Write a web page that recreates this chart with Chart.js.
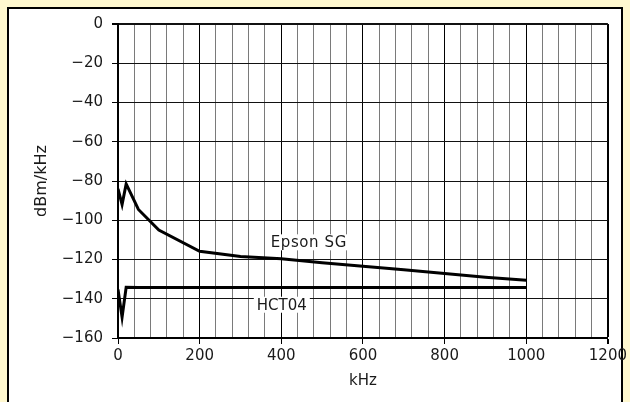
<!DOCTYPE html>
<html>
<head>
<meta charset="utf-8">
<script src="https://cdn.jsdelivr.net/npm/chart.js@4/dist/chart.umd.min.js"></script>
<style>
  html, body { margin: 0; padding: 0; }
  body { width: 630px; height: 402px; background: #fff8cf; position: relative; overflow: hidden; }
  #frame { position: absolute; left: 7px; top: 7px; width: 612px; height: 420px;
           border: 2px solid #000; background: #fff; }
  #chart { position: absolute; left: 0; top: 0; }
</style>
</head>
<body>
<div id="frame"></div>
<canvas id="chart" width="630" height="402"></canvas>
<script>
// Frequencies in kHz (shared by both traces)
const freqs = [0, 10, 20, 50, 100, 200, 300, 400, 500, 600, 700, 800, 900, 1000];
// Spectral density, dBm/kHz
const epsonSG = [-84, -92, -81.5, -94.5, -105, -115.8, -118.5, -119.6, -121.6, -123.4, -125.2, -127.1, -129, -130.6];
const hct04 = [-135.3, -149.4, -134.2, -134.3, -134.3, -134.3, -134.3, -134.3, -134.3, -134.3, -134.3, -134.3, -134.3, -134.3];
const seriesNames = ['Epson SG', 'HCT04'];

const xMin = 0, xMax = 1200, xStep = 40, xLabelEvery = 200;
const yMin = -160, yMax = 0, yStep = 20;

const FONT = '"DejaVu Sans", sans-serif';
const TEXT = '#1a1a1a';

function toPoints(values) {
    return freqs.map((f, i) => ({ x: f, y: values[i] }));
}

// Text notes placed next to each trace, with a white box behind them
const traceNotes = {
    id: 'traceNotes',
    afterDatasetsDraw(chart) {
        const { ctx, scales: { x, y } } = chart;
        const spots = [{ x: 374, y: -113.8 }, { x: 340, y: -145.6 }];
        ctx.save();
        ctx.font = '15px ' + FONT;
        ctx.textBaseline = 'alphabetic';
        ctx.textAlign = 'left';
        seriesNames.forEach((name, i) => {
            const px = x.getPixelForValue(spots[i].x);
            const py = y.getPixelForValue(spots[i].y);
            ctx.letterSpacing = i === 0 ? '0.6px' : '0px';
            const w = ctx.measureText(name).width;
            ctx.fillStyle = '#fff';
            ctx.fillRect(px - 3, py - 13, w + 6, 16);
            ctx.fillStyle = TEXT;
            ctx.fillText(name, px, py);
        });
        ctx.restore();
    }
};

new Chart(document.getElementById('chart'), {
    type: 'line',
    data: {
        datasets: [
            { label: seriesNames[0], data: toPoints(epsonSG) },
            { label: seriesNames[1], data: toPoints(hct04) }
        ]
    },
    options: {
        responsive: false,
        animation: false,
        devicePixelRatio: 1,
        elements: {
            line: { borderColor: '#000', borderWidth: 3, tension: 0, borderJoinStyle: 'miter' },
            point: { radius: 0 }
        },
        layout: { padding: { left: 0, right: 22, top: 24, bottom: 0 } },
        plugins: {
            legend: { display: false },
            tooltip: { enabled: false }
        },
        scales: {
            x: {
                type: 'linear',
                min: xMin,
                max: xMax,
                afterFit(scale) { scale.height = 64; },
                ticks: {
                    stepSize: xStep,
                    autoSkip: false,
                    maxRotation: 0,
                    padding: 3,
                    color: TEXT,
                    font: { family: FONT, size: 15 },
                    callback: v => (v % xLabelEvery === 0 ? String(v) : '')
                },
                grid: {
                    color: c => (c.tick && c.tick.value % xLabelEvery === 0 ? '#000' : '#7a7a7a'),
                    lineWidth: c => (c.tick && c.tick.value === xMax ? 2 : 1),
                    tickColor: c => (c.tick && c.tick.value % xLabelEvery === 0 ? '#000' : 'rgba(0,0,0,0)'),
                    tickLength: 6
                },
                border: { display: true, color: '#000', width: 2 },
                title: {
                    display: true,
                    text: 'kHz',
                    color: TEXT,
                    font: { family: FONT, size: 15 },
                    padding: { top: 0, bottom: 12 }
                }
            },
            y: {
                min: yMin,
                max: yMax,
                afterFit(scale) { scale.width = 118; },
                ticks: {
                    stepSize: yStep,
                    padding: 9,
                    color: TEXT,
                    font: { family: FONT, size: 15 },
                    callback: v => (v === 0 ? '0' : '\u2212' + Math.abs(v))
                },
                grid: {
                    color: '#111',
                    lineWidth: c => (c.tick && c.tick.value === yMax ? 2 : 1),
                    tickColor: '#000',
                    tickLength: 6
                },
                border: { display: true, color: '#000', width: 2 },
                title: {
                    display: true,
                    text: 'dBm/kHz',
                    color: TEXT,
                    font: { family: FONT, size: 16 },
                    padding: { top: 32, bottom: 0 }
                }
            }
        }
    },
    plugins: [traceNotes]
});
</script>
</body>
</html>
